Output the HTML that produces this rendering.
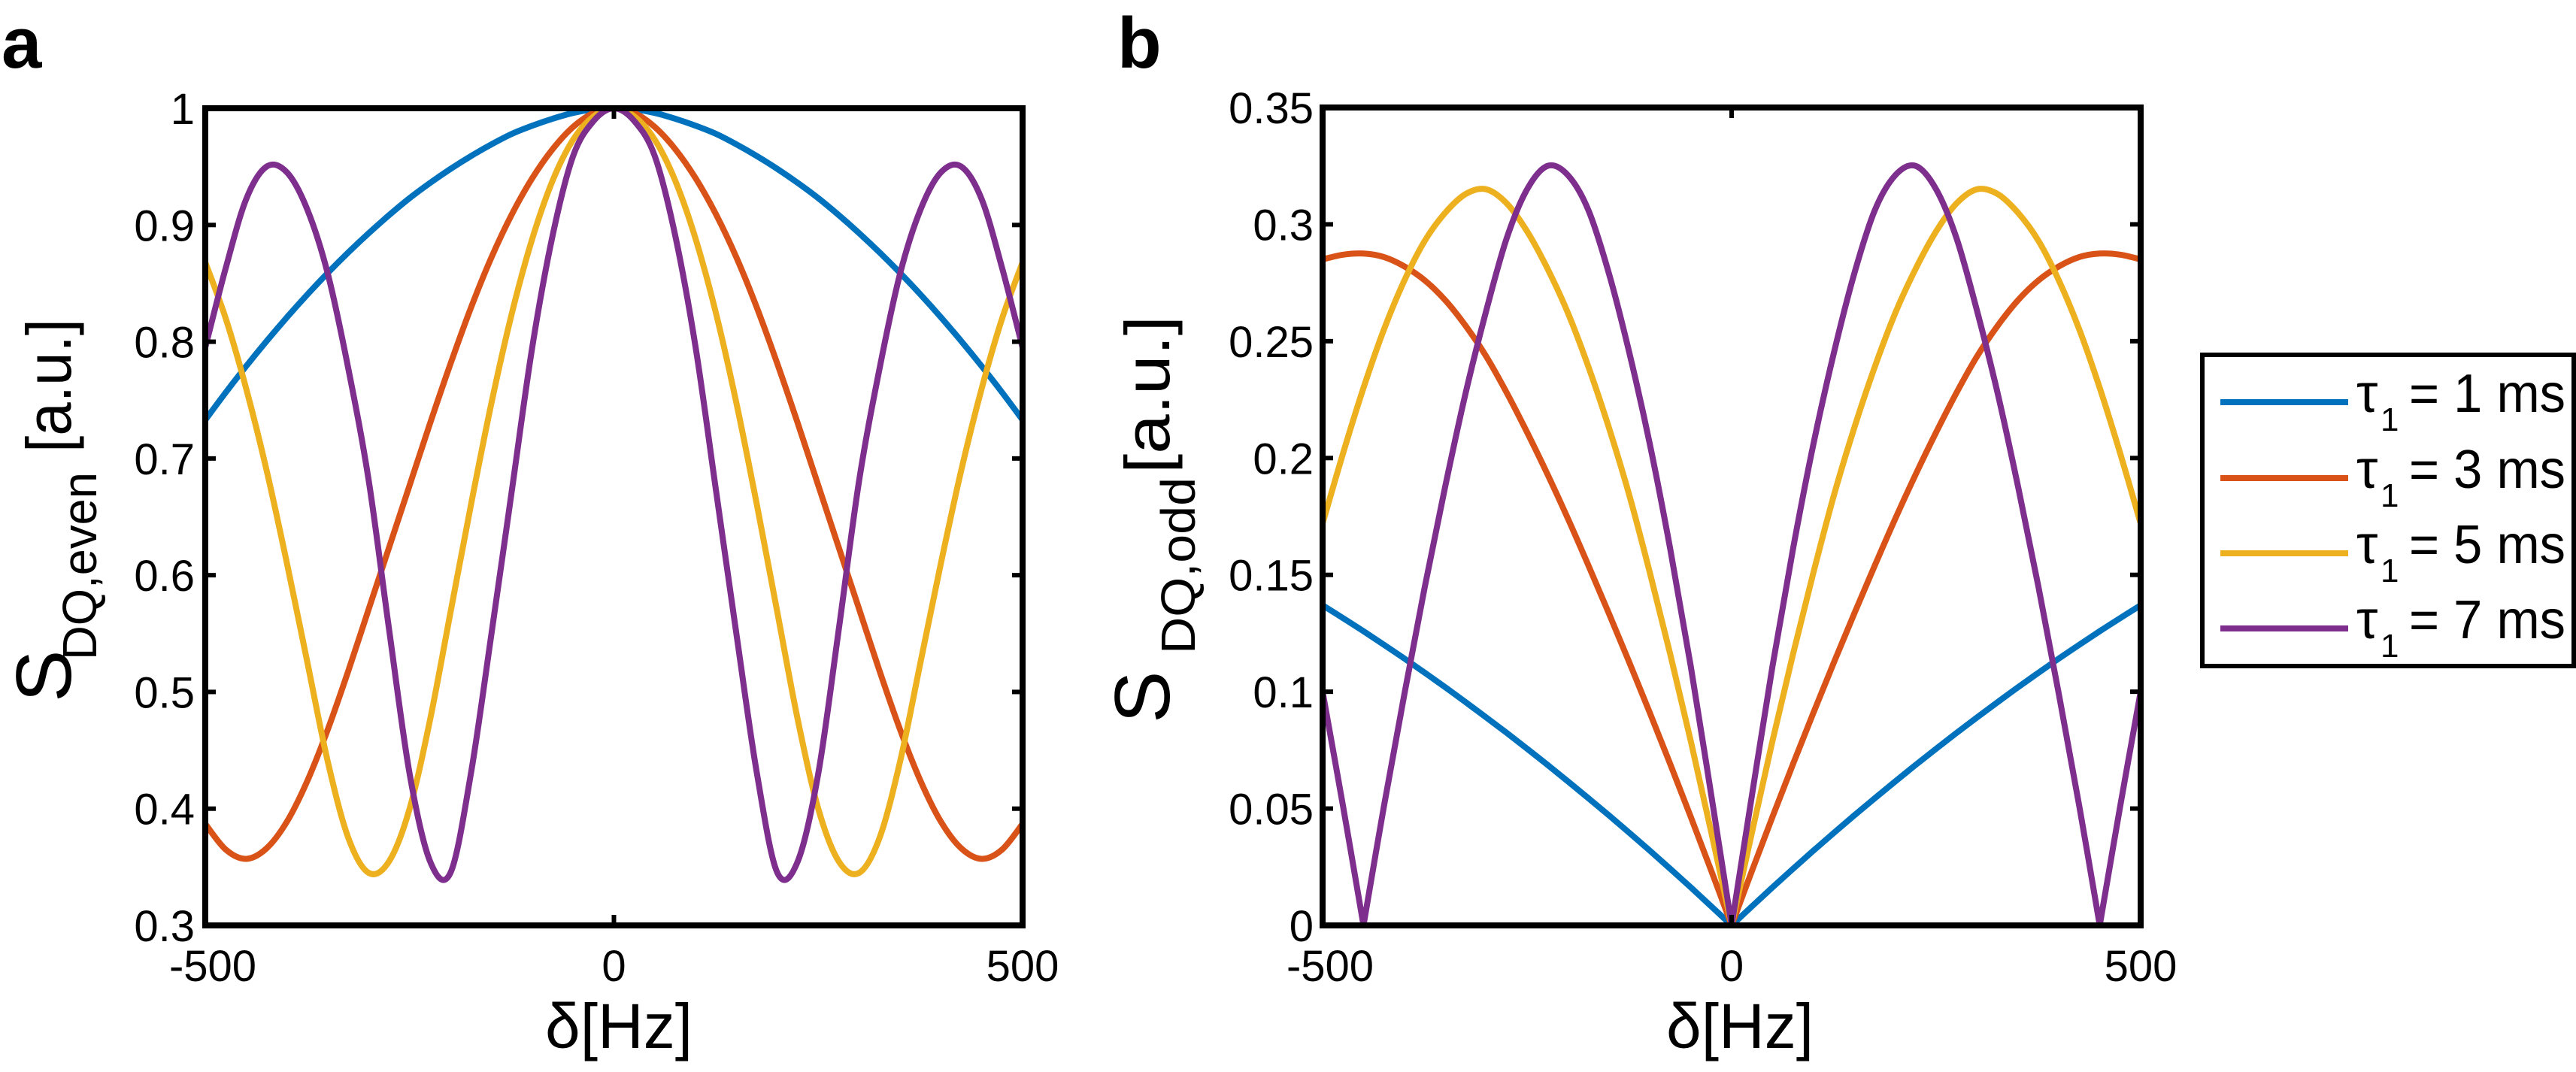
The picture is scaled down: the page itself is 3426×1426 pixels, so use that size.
<!DOCTYPE html>
<html>
<head>
<meta charset="utf-8">
<style>
html,body{margin:0;padding:0;background:#fff;}
svg{display:block;}
text{font-family:"Liberation Sans",sans-serif;fill:#000;}
</style>
</head>
<body>
<svg id="fig" width="3426" height="1426" viewBox="0 0 3426 1426" xmlns="http://www.w3.org/2000/svg">
  <rect x="0" y="0" width="3426" height="1426" fill="#fff"/>
  <text x="2" y="90" font-size="96" font-weight="bold">a</text>
  <text x="1486" y="90" font-size="96" font-weight="bold">b</text>
  <g id="panelA"></g>
  <g id="panelB"></g>
  <g id="legend"></g>
</svg>
<script>
const NS = "http://www.w3.org/2000/svg";
const deltas = [-500,-475,-450,-425,-400,-375,-350,-325,-300,-275,-250,-225,-200,-175,-150,-125,-100,-75,-50,-25,0,25,50,75,100,125,150,175,200,225,250,275,300,325,350,375,400,425,450,475,500];
const seriesLabels = ["1", "3", "5", "7"];
const seriesColors = ["#0072BD", "#D95319", "#EDB120", "#7E2F8E"];
const evenT1 = [0.733,0.7565,0.779,0.8005,0.821,0.8405,0.859,0.8765,0.893,0.9085,0.923,0.936,0.948,0.959,0.969,0.978,0.985,0.991,0.996,0.999,1,0.999,0.996,0.991,0.985,0.978,0.969,0.959,0.948,0.936,0.923,0.9085,0.893,0.8765,0.859,0.8405,0.821,0.8005,0.779,0.7565,0.733];
const evenT3 = [0.387,0.365,0.357,0.366,0.389,0.424,0.468,0.518,0.571,0.624,0.677,0.730,0.781,0.829,0.872,0.909,0.940,0.965,0.984,0.996,1,0.996,0.984,0.965,0.940,0.909,0.872,0.829,0.781,0.730,0.677,0.624,0.571,0.518,0.468,0.424,0.389,0.366,0.357,0.365,0.387];
const evenT5 = [0.868,0.820,0.760,0.690,0.610,0.525,0.440,0.375,0.345,0.355,0.400,0.476,0.568,0.660,0.747,0.824,0.888,0.938,0.973,0.993,1,0.993,0.973,0.938,0.888,0.824,0.747,0.660,0.568,0.476,0.400,0.355,0.345,0.375,0.440,0.525,0.610,0.690,0.760,0.820,0.868];
const evenT7 = [0.795,0.863,0.922,0.950,0.945,0.913,0.858,0.777,0.681,0.553,0.430,0.355,0.345,0.430,0.549,0.672,0.795,0.891,0.959,0.989,1,0.989,0.959,0.891,0.795,0.672,0.549,0.430,0.345,0.355,0.430,0.553,0.681,0.777,0.858,0.913,0.945,0.950,0.922,0.863,0.795];
const oddT1 = [0.1370,0.1315,0.1259,0.1201,0.1142,0.1081,0.1019,0.0955,0.0890,0.0824,0.0756,0.0687,0.0616,0.0544,0.0471,0.0396,0.0320,0.0242,0.0163,0.0082,0,0.0082,0.0163,0.0242,0.0320,0.0396,0.0471,0.0544,0.0616,0.0687,0.0756,0.0824,0.0890,0.0955,0.1019,0.1081,0.1142,0.1201,0.1259,0.1315,0.1370];
const oddT3 = [0.285,0.287,0.2875,0.286,0.282,0.276,0.2675,0.2565,0.2435,0.228,0.211,0.193,0.174,0.154,0.1335,0.1125,0.091,0.069,0.0465,0.0235,0,0.0235,0.0465,0.069,0.091,0.1125,0.1335,0.154,0.174,0.193,0.211,0.228,0.2435,0.2565,0.2675,0.276,0.282,0.286,0.2875,0.287,0.285];
const oddT5 = [0.172,0.202,0.230,0.255,0.276,0.293,0.305,0.313,0.315,0.309,0.297,0.281,0.262,0.239,0.213,0.184,0.151,0.116,0.079,0.040,0,0.040,0.079,0.116,0.151,0.184,0.213,0.239,0.262,0.281,0.297,0.309,0.315,0.313,0.305,0.293,0.276,0.255,0.230,0.202,0.172];
const oddT7 = [0.100,0.051,0,0.051,0.099,0.145,0.188,0.228,0.263,0.294,0.315,0.325,0.321,0.306,0.279,0.245,0.206,0.161,0.111,0.056,0,0.056,0.111,0.161,0.206,0.245,0.279,0.306,0.321,0.325,0.315,0.294,0.263,0.228,0.188,0.145,0.099,0.051,0,0.051,0.100];
const xTicks = [-500, 0, 500];
const xTickLabels = ["-500", "0", "500"];
const yTicksA = [0.3,0.4,0.5,0.6,0.7,0.8,0.9,1];
const yTickLabelsA = ["0.3","0.4","0.5","0.6","0.7","0.8","0.9","1"];
const yTicksB = [0,0.05,0.1,0.15,0.2,0.25,0.3,0.35];
const yTickLabelsB = ["0","0.05","0.1","0.15","0.2","0.25","0.3","0.35"];

function mk(tag, attrs, parent) {
  const e = document.createElementNS(NS, tag);
  for (const k in attrs) e.setAttribute(k, attrs[k]);
  parent.appendChild(e);
  return e;
}

function splinePath(pts) {
  let d = "";
  const pieces = [];
  let cur = [];
  pts.forEach((p) => {
    cur.push(p);
    if (p.zero && cur.length > 1) { pieces.push(cur); cur = [p]; }
  });
  if (cur.length > 1) pieces.push(cur);
  pieces.forEach((pc, pi) => {
    if (pi === 0) d += "M" + pc[0].x.toFixed(2) + "," + pc[0].y.toFixed(2);
    for (let i = 0; i < pc.length - 1; i++) {
      const p0 = pc[i - 1] || pc[i], p1 = pc[i], p2 = pc[i + 1], p3 = pc[i + 2] || pc[i + 1];
      const c1x = p1.x + (p2.x - p0.x) / 6, c1y = p1.y + (p2.y - p0.y) / 6;
      const c2x = p2.x - (p3.x - p1.x) / 6, c2y = p2.y - (p3.y - p1.y) / 6;
      d += "C" + c1x.toFixed(2) + "," + c1y.toFixed(2) + " " + c2x.toFixed(2) + "," + c2y.toFixed(2) + " " + p2.x.toFixed(2) + "," + p2.y.toFixed(2);
    }
  });
  return d;
}

function drawPanel(g, cfg) {
  const L = cfg.left, R = cfg.right, T = cfg.top, B = cfg.bottom;
  const xs = v => L + (v - (-500)) / 1000 * (R - L);
  const ys = v => B - (v - cfg.ymin) / (cfg.ymax - cfg.ymin) * (B - T);
  const clipId = cfg.id + "-clip";
  const defs = mk("defs", {}, g);
  const cp = mk("clipPath", {id: clipId}, defs);
  mk("rect", {x: L, y: T, width: R - L, height: B - T}, cp);
  const lines = mk("g", {"clip-path": "url(#" + clipId + ")"}, g);
  
  
  cfg.series.forEach((vals, si) => {
    const pts = vals.map((v, i) => ({x: xs(deltas[i]), y: ys(v), zero: v === 0}));
    const p = mk("path", {d: splinePath(pts), fill: "none", stroke: seriesColors[si], "stroke-width": 8, "stroke-linejoin": "round", "stroke-linecap": "butt"}, lines);
    
    
  });
  const tg = mk("g", {stroke: "#000", "stroke-width": 6}, g);
  
  
  xTicks.forEach((t, i) => {
    const x = xs(t);
    mk("line", {x1: x, y1: B, x2: x, y2: B - 14}, tg);
    mk("line", {x1: x, y1: T, x2: x, y2: T + 14}, tg);
    const lab = mk("text", {x: x + (i === 0 ? cfg.xLabelShift0 : 0), y: 1305, "font-size": 58, "text-anchor": "middle"}, g);
    lab.textContent = xTickLabels[i];
    
    
  });
  cfg.yTicks.forEach((t, i) => {
    const y = ys(t);
    mk("line", {x1: L, y1: y, x2: L + 14, y2: y}, tg);
    mk("line", {x1: R, y1: y, x2: R - 14, y2: y}, tg);
    const lab = mk("text", {x: cfg.yLabelRight, y: y + 21, "font-size": 58, "text-anchor": "end"}, g);
    lab.textContent = cfg.yTickLabels[i];
    
    
  });
  const box = mk("rect", {x: L, y: T, width: R - L, height: B - T, fill: "none", stroke: "#000", "stroke-width": 8}, g);
  
  
  const xt = mk("text", {x: cfg.xTitleX, y: 1394, "font-size": 84, "text-anchor": "middle"}, g);
  xt.textContent = "δ[Hz]";
  
  
  const yt = mk("g", {}, g);
  
  
  const bx = cfg.yTitle.base;
  const s = mk("text", {transform: "translate(" + bx + "," + cfg.yTitle.sStart + ") rotate(-90)", "font-size": 104}, yt);
  s.textContent = "S";
  const sub = mk("text", {transform: "translate(" + (bx + 34) + "," + cfg.yTitle.subStart + ") rotate(-90)", "font-size": 64, textLength: cfg.yTitle.subLen, lengthAdjust: "spacingAndGlyphs"}, yt);
  sub.textContent = cfg.yTitle.sub;
  const au = mk("text", {transform: "translate(" + bx + "," + cfg.yTitle.auStart + ") rotate(-90)", "font-size": 84, textLength: cfg.yTitle.auLen, lengthAdjust: "spacingAndGlyphs"}, yt);
  au.textContent = "[a.u.]";
}

drawPanel(document.getElementById("panelA"), {
  id: "pa", left: 273, right: 1360, top: 144, bottom: 1231, ymin: 0.3, ymax: 1.0,
  series: [evenT1, evenT3, evenT5, evenT7],
  yTicks: yTicksA, yTickLabels: yTickLabelsA, yLabelRight: 259, xLabelShift0: 10,
  xTitleX: 823,
  yTitle: {base: 94, sStart: 934, subStart: 878, subLen: 250, sub: "DQ,even", auStart: 602, auLen: 178}
});
drawPanel(document.getElementById("panelB"), {
  id: "pb", left: 1759, right: 2847, top: 143, bottom: 1231, ymin: 0, ymax: 0.35,
  series: [oddT1, oddT3, oddT5, oddT7],
  yTicks: yTicksB, yTickLabels: yTickLabelsB, yLabelRight: 1747, xLabelShift0: 10,
  xTitleX: 2314,
  yTitle: {base: 1555, sStart: 962, subStart: 870, subLen: 235, sub: "DQ,odd", auStart: 630, auLen: 210}
});

const lg = document.getElementById("legend");
const lbox = mk("rect", {x: 2929, y: 472, width: 494, height: 414, fill: "#fff", stroke: "#000", "stroke-width": 6}, lg);


const legendY = [535, 636, 736, 836];
seriesLabels.forEach((lab, i) => {
  const y = legendY[i];
  const eg = mk("g", {}, lg);
  
  
  mk("line", {x1: 2953, y1: y, x2: 3123, y2: y, stroke: seriesColors[i], "stroke-width": 8}, eg);
  const t1 = mk("text", {x: 3134, y: y + 13, "font-size": 72}, eg);
  t1.textContent = "τ";
  const t2 = mk("text", {x: 3166, y: y + 38, "font-size": 44}, eg);
  t2.textContent = "1";
  const t3 = mk("text", {x: 3204, y: y + 13, "font-size": 72, textLength: 208, lengthAdjust: "spacingAndGlyphs"}, eg);
  t3.textContent = "= " + lab + " ms";
});
</script>
</body>
</html>
